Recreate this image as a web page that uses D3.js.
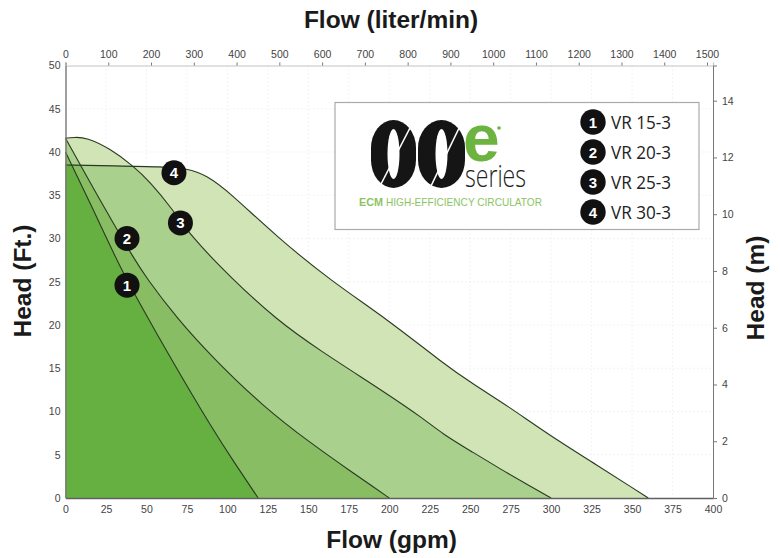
<!DOCTYPE html>
<html><head><meta charset="utf-8">
<style>html,body{margin:0;padding:0;background:#fff}svg{display:block;font-family:"Liberation Sans",Arial,sans-serif}</style>
<script src="https://cdnjs.cloudflare.com/ajax/libs/d3/7.8.5/d3.min.js"></script>
</head><body><div id="c"></div>
<script>
const gpmTicks=d3.range(0,401,25);
const literTicks=d3.range(0,1501,100);
const ftTicks=d3.range(0,51,5);
const meterTicks=[0,2,4,6,8,10,12,14];
const vr15=[[0,40],[16,33.8],[32.6,27.1],[44,23.1],[66.6,15.6],[91,7.9],[105,3.9],[119,0]];
const vr20=[[0,41.6],[10.9,37.9],[31.8,31],[41,28.1],[50,25.4],[68.8,20.8],[91,16.2],[122,10.6],[151,6.4],[177.7,2.9],[190,1.3],[200,0]];
const vr25=[[0,41.6],[5,41.7],[13,41.7],[27.5,40.4],[41.8,38.4],[52,36.6],[65.7,33.5],[76.8,30.4],[103,25.3],[130.5,20.6],[155,17.3],[200,11.9],[220.9,9.2],[233,7.4],[251.5,5.3],[270,3.2],[285,1.6],[300,0]];
const vr30=[[0,38.5],[30,38.4],[60,38.3],[75,38.1],[87.3,37.3],[101.5,35.3],[130.5,30.2],[163.3,25.2],[200,20.5],[233,15.6],[251.5,13.2],[274.4,10.5],[297,7.5],[330,3.6],[350,1.2],[360,0]];
const names=["VR 15-3","VR 20-3","VR 25-3","VR 30-3"];
const markers=[[38,24.6,"1"],[38,30,"2"],[71,31.8,"3"],[67,37.6,"4"]];
const W=780,H=558,M={l:65.5,r:713,t:65.5,b:498};
const x=d3.scaleLinear([0,400],[M.l,M.r]);
const y=d3.scaleLinear([0,50],[M.b,M.t]);
const xL=d3.scaleLinear([0,400*3.785],[M.l,M.r]);
const yM=d3.scaleLinear([0,50*0.3048],[M.b,M.t]);
const svg=d3.select("#c").append("svg").attr("width",W).attr("height",H);
const defs=svg.append("defs");
const line=d3.line(d=>x(d[0]),d=>y(d[1])).curve(d3.curveBasis);
const area=d3.area(d=>x(d[0]),y(0),d=>y(d[1])).curve(d3.curveBasis);
defs.append("clipPath").attr("id","c4").append("path").attr("d",area(vr30));
// grid
const grid=svg.append("g").attr("stroke","#e6e6e6").attr("stroke-width",1).attr("stroke-dasharray","1 3");
grid.selectAll(".v").data(gpmTicks.slice(1,-1)).join("line").attr("x1",d=>x(d)).attr("x2",d=>x(d)).attr("y1",M.t).attr("y2",M.b);
grid.selectAll(".h").data(ftTicks.slice(1,-1)).join("line").attr("y1",d=>y(d)).attr("y2",d=>y(d)).attr("x1",M.l).attr("x2",M.r);
// fills: every overlap of the two families steps one shade darker
const LIGHT="#d0e4b6",MID="#a9d08c",DARK2="#88bd64",DARK1="#66b041";
svg.append("path").attr("d",area(vr30)).attr("fill",LIGHT);
svg.append("path").attr("d",area(vr25)).attr("fill",LIGHT);
svg.append("path").attr("d",area(vr20)).attr("fill",MID);
svg.append("path").attr("d",area(vr15)).attr("fill",DARK2);
svg.append("path").attr("d",area(vr25)).attr("fill",MID).attr("clip-path","url(#c4)");
svg.append("path").attr("d",area(vr20)).attr("fill",DARK2).attr("clip-path","url(#c4)");
svg.append("path").attr("d",area(vr15)).attr("fill",DARK1).attr("clip-path","url(#c4)");
// curves
[vr15,vr20,vr25,vr30].forEach(c=>svg.append("path").attr("d",line(c)).attr("fill","none").attr("stroke","#2a3a22").attr("stroke-width",1.1));
// axes
const axisStyle=(g)=>{g.selectAll("text").attr("font-size",10.5).attr("fill","#444");g.selectAll("line").attr("stroke","#777");g.select(".domain").attr("stroke","#777");};
svg.append("g").attr("transform",`translate(0,${M.b})`).call(d3.axisBottom(x).tickValues(gpmTicks).tickSize(0).tickPadding(8).tickFormat(d3.format("d"))).call(axisStyle).select(".domain").attr("stroke","#606060").attr("stroke-width",1.6);
svg.append("g").attr("transform",`translate(0,${M.t})`).call(d3.axisTop(xL).tickValues(literTicks).tickSize(3).tickPadding(5).tickFormat(d3.format("d"))).call(axisStyle).select(".domain").attr("stroke","#c4c4c4").attr("stroke-width",1.2);
svg.append("g").attr("transform",`translate(${M.l},0)`).call(d3.axisLeft(y).tickValues(ftTicks).tickSize(0).tickPadding(5).tickFormat(d3.format("d"))).call(axisStyle).select(".domain").attr("stroke","#777").attr("stroke-width",1.4);
svg.append("g").attr("transform",`translate(${M.r},0)`).call(d3.axisRight(yM).tickValues(meterTicks).tickSize(4).tickPadding(5).tickFormat(d3.format("d"))).call(axisStyle);
// titles
const t=(s,xx,yy,size,rot)=>svg.append("text").text(s).attr("text-anchor","middle").attr("font-weight","bold").attr("font-size",size).attr("fill","#1a1a1a").attr("transform",`translate(${xx},${yy})${rot?` rotate(${rot})`:""}`);
t("Flow (liter/min)",391,28,24.5);
t("Flow (gpm)",391.5,548,24.5);
t("Head (Ft.)",31,281,24.5,-90);
t("Head (m)",764,288,24.5,-90);
// legend box
svg.append("rect").attr("x",335).attr("y",102.5).attr("width",364).attr("height",127).attr("fill","#fff").attr("stroke","#aaa").attr("stroke-width",1.2);
// logo
const logo=svg.append("g");
[[371,45,380,412],[418,47,431,461]].forEach(([l,w,sx0,sx1])=>{
 logo.append("rect").attr("x",l).attr("y",120).attr("width",w).attr("height",68).attr("rx",w/2).attr("ry",28).attr("fill","#151515");
 logo.append("ellipse").attr("cx",l+w/2).attr("cy",154).attr("rx",6).attr("ry",25).attr("fill","#fff");
 logo.append("line").attr("x1",sx0).attr("y1",186).attr("x2",sx1).attr("y2",124).attr("stroke","#fff").attr("stroke-width",1.6);
});
logo.append("text").text("e").attr("x",463).attr("y",161).attr("font-size",66).attr("font-weight","bold").attr("fill","#6cb33f");
logo.append("circle").attr("cx",499).attr("cy",128).attr("r",1.8).attr("fill","#6cb33f");
logo.append("text").text("series").attr("x",465).attr("y",187).attr("font-size",32).attr("textLength",61).attr("lengthAdjust","spacingAndGlyphs").attr("fill","#222").style("font-family","'Open Sans'").style("font-weight",300);
logo.append("text").text("ECM").attr("x",359).attr("y",206).attr("font-size",11.5).attr("font-weight","bold").attr("fill","#8cc463").attr("textLength",24).attr("lengthAdjust","spacingAndGlyphs");
logo.append("text").text("HIGH-EFFICIENCY CIRCULATOR").attr("x",386).attr("y",206).attr("font-size",11.5).attr("fill","#8cc463").attr("textLength",156).attr("lengthAdjust","spacingAndGlyphs");
// legend entries
const ly=d3.scaleLinear([0,3],[122,212]);
names.forEach((n,i)=>{
 const g=svg.append("g");
 g.append("circle").attr("cx",593).attr("cy",ly(i)).attr("r",12.7).attr("fill","#111");
 g.append("text").text(i+1).attr("x",593).attr("y",ly(i)+5.5).attr("text-anchor","middle").attr("font-size",15).attr("font-weight","bold").attr("fill","#fff");
 g.append("text").text(n).attr("x",611).attr("y",ly(i)+6.5).attr("font-size",18).attr("fill","#222").attr("textLength",60).attr("lengthAdjust","spacingAndGlyphs").style("font-family","'Open Sans'");
});
// markers
markers.forEach(([a,b,l])=>{
 svg.append("circle").attr("cx",x(a)).attr("cy",y(b)).attr("r",12.5).attr("fill","#111");
 svg.append("text").text(l).attr("x",x(a)).attr("y",y(b)+5.5).attr("text-anchor","middle").attr("font-size",15).attr("font-weight","bold").attr("fill","#fff");
});
</script></body></html>
